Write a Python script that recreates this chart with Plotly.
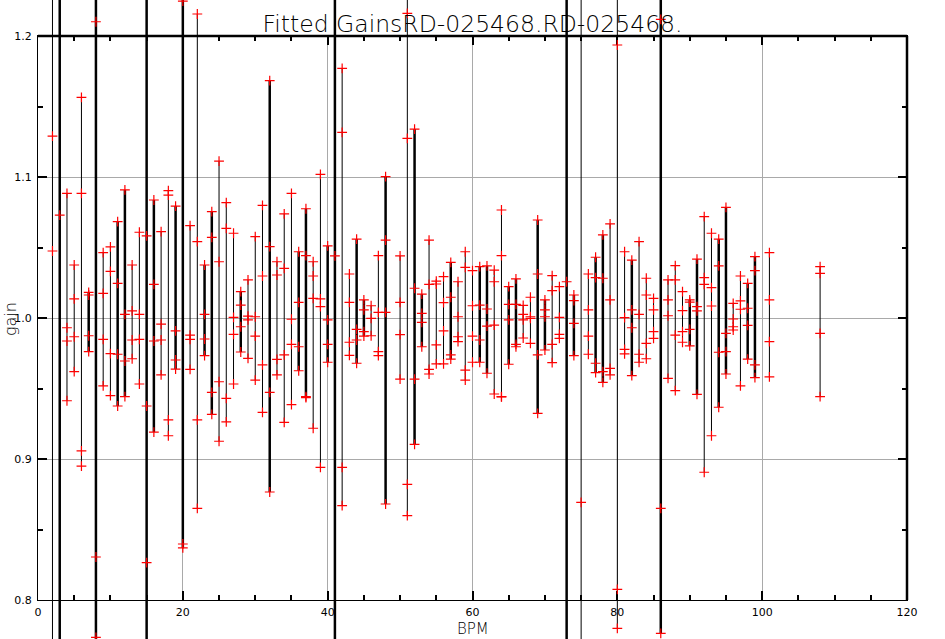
import plotly.graph_objects as go

# ---------------- data ----------------
bar_bpm = [2, 3, 4, 5, 6, 7, 8, 9, 10, 11, 12, 13, 14, 15, 16, 17, 18, 19, 20,
           21, 22, 23, 24, 25, 26, 27, 28, 29, 30, 31, 32, 33, 34, 35, 36, 37, 38, 39, 40,
           41, 42, 43, 44, 45, 46, 47, 48, 50, 51, 52, 53, 54, 55, 56, 57, 58, 59, 60,
           61, 62, 63, 64, 65, 66, 67, 68, 69, 70, 71, 72, 73, 74, 75, 76, 77, 78, 79, 80,
           81, 82, 83, 84, 85, 86, 87, 88, 89, 90, 91, 92, 93, 94, 95, 96, 97, 98, 99,
           101, 108]

bar_lo = [0.70, 0.70, 0.9413, 0.9619, 0.8950, 0.9761, 0.70, 0.9518, 0.9449, 0.9376,
          0.9442, 0.9711, 0.9532, 0.70, 0.9191, 0.9596, 0.9165, 0.9638, 0.8369,
          0.9636, 0.8650, 0.9733, 0.9317, 0.9126, 0.9264, 0.9532, 0.9759, 0.9714, 0.9560,
          0.9331, 0.8766, 0.9596, 0.9260, 0.9385, 0.9626, 0.9435, 0.9218, 0.8941, 0.9686,
          0.70, 0.8669, 0.9735, 0.9679, 0.9872, 0.9874, 0.9733, 0.8681, 0.9567, 0.8598,
          0.9104, 0.9796, 0.9603, 0.9674, 0.9674, 0.9709, 0.9832, 0.9560, 0.9686,
          0.9686, 0.9608, 0.9461, 0.9440, 0.9672, 0.9796, 0.9858, 0.9820, 0.9324, 0.9773,
          0.9683, 0.9856, 0.70, 0.9733, 0.70, 0.9743, 0.9612, 0.9544, 0.9596, 0.7799,
          0.9745, 0.9591, 0.9686, 0.9711, 0.9856, 0.7764, 0.9572, 0.9485, 0.9828, 0.9803,
          0.9459, 0.8906, 0.9165, 0.9367, 0.9603, 0.9915, 0.9518, 0.9709, 0.9577,
          0.9582, 0.9442]

bar_hi = [1.30, 1.30, 1.0884, 1.0376, 1.1565, 1.0182, 1.30, 1.0463, 1.0504, 1.0683,
          1.0908, 1.0376, 1.0608, 1.30, 1.0837, 1.0612, 1.0903, 1.0794, 1.30,
          1.0655, 1.2156, 1.0376, 1.0754, 1.1113, 1.0818, 1.0601, 1.0187, 1.0270, 1.0577,
          1.0799, 1.1683, 1.0399, 1.0738, 1.0884, 1.0470, 1.0775, 1.0399, 1.1019, 1.0511,
          1.30, 1.1771, 1.0312, 1.0560, 1.0128, 1.0087, 1.0442, 1.1002, 1.0440, 1.30,
          1.1340, 1.0170, 1.0553, 1.0262, 1.0293, 1.0395, 1.0257, 1.0470, 1.0336,
          1.0364, 1.0369, 1.0340, 1.0766, 1.0222, 1.0277, 1.0090, 1.0147, 1.0695, 1.0128,
          1.0300, 1.0222, 1.30, 1.0163, 1.30, 1.0312, 1.0431, 1.0589, 1.0667, 1.30,
          1.0470, 1.0411, 1.0541, 1.0282, 1.0139, 1.30, 1.0270, 1.0371, 1.0187, 1.0128,
          1.0418, 1.0719, 1.0601, 1.0560, 1.0785, 1.0104, 1.0298, 1.0246, 1.0435,
          1.0463, 1.0364]

bar_thick = [0, 1, 0, 0, 0, 1, 1, 0, 0, 1, 1, 0, 0, 1, 1, 0, 0, 1, 1,
             0, 0, 1, 1, 0, 0, 0, 1, 0, 0, 0, 1, 0, 0, 0, 1, 1, 0, 0, 1,
             1, 0, 0, 1, 1, 0, 0, 1, 0, 0, 1, 1, 0, 0, 0, 1, 0, 0, 0,
             1, 1, 0, 0, 1, 1, 0, 0, 1, 1, 0, 0, 1, 1, 0, 0, 1, 1, 0, 0,
             0, 1, 0, 0, 0, 1, 0, 0, 0, 1, 1, 0, 0, 1, 1, 0, 0, 1, 1,
             0, 0]

bar_marks = [
    [1.129, 1.0475], [1.073], [1.0884, 0.9931, 0.9837, 0.9413], [1.0376, 1.0135, 0.9867, 0.9619],
    [1.1565, 1.0884, 0.9057, 0.895], [1.0182, 1.0163, 0.9874, 0.9761], [1.2101, 0.8305, 0.7735],
    [1.0463, 1.0175, 0.9849, 0.9518], [1.0504, 1.0331, 0.9747, 0.9449], [1.0683, 1.0246, 0.9743, 0.9376],
    [1.0908, 1.0026, 0.9695, 0.9442], [1.0376, 1.005, 0.9844, 0.9711], [1.0608, 1.0026, 0.9849, 0.9532],
    [1.0582, 0.9376, 0.8265], [1.0837, 1.0239, 0.9837, 0.9191], [1.0612, 0.9957, 0.9844, 0.9596],
    [1.0903, 1.0872, 0.9277, 0.9165], [1.0794, 0.9908, 0.9702, 0.9638], [1.2248, 0.8397, 0.8369],
    [1.0655, 0.9879, 0.9849, 0.9636], [1.2156, 1.0541, 0.9277, 0.865], [1.0376, 1.0026, 0.9851, 0.9733],
    [1.0754, 1.0572, 0.9473, 0.9317], [1.1113, 1.0399, 0.9548, 0.9126], [1.0818, 1.0636, 0.9430, 0.9264],
    [1.0601, 1.0005, 0.9884, 0.9532], [1.0187, 1.0092, 0.9938, 0.9759], [1.0270, 1.0014, 0.9986, 0.9714],
    [1.0577, 1.0009, 0.9872, 0.9560], [1.0799, 1.0298, 0.9667, 0.9331], [1.1683, 1.0506, 0.9473, 0.8766],
    [1.0399, 1.0305, 0.9707, 0.9596], [1.0738, 1.0352, 0.9738, 0.9260], [1.0884, 0.9991, 0.9813, 0.9385],
    [1.0470, 1.0111, 0.9796, 0.9626], [1.0775, 1.0442, 0.9442, 0.9435], [1.0399, 1.0298, 1.0139, 0.9218],
    [1.1019, 1.0135, 1.008, 0.8941], [1.0511, 0.9986, 0.9813, 0.9686],
    [1.0440], [1.1771, 1.1317, 0.8941, 0.8669], [1.0312, 1.0111, 0.9828, 0.9735],
    [1.0560, 0.9920, 0.9844, 0.9679], [1.0128, 1.0057, 0.9903, 0.9872], [1.0087, 0.9998, 0.9874],
    [1.0442, 1.0040, 0.9761, 0.9733], [1.1002, 1.0553, 1.0040, 0.8681], [1.0440, 1.0111, 0.9882, 0.9567],
    [1.2161, 1.1274, 0.8820, 0.8598], [1.1340, 1.0211, 0.9567, 0.9104], [1.0170, 1.0033, 0.9969, 0.9796],
    [1.0553, 1.0239, 0.9636, 0.9603], [1.0262, 1.0241, 0.9809, 0.9674], [1.0293, 1.0109, 0.9908, 0.9674],
    [1.0395, 1.0147, 0.9738, 0.9709], [1.0257, 1.0009, 0.9867, 0.9832], [1.0470, 1.0359, 0.9631, 0.9560],
    [1.0336, 1.0087, 0.9872, 0.9686],
    [1.0364, 1.0092, 0.9844, 0.9686], [1.0369, 1.0064, 0.9943, 0.9608], [1.0340, 1.0257, 0.9950, 0.9461],
    [1.0766, 1.0442, 0.9442, 0.9440], [1.0222, 1.0097, 0.9986, 0.9672], [1.0277, 1.0097, 0.9813, 0.9796],
    [1.0090, 1.0026, 0.9986, 0.9858], [1.0147, 1.0009, 0.9998, 0.9820], [1.0695, 1.0312, 0.9738, 0.9324],
    [1.0128, 1.0057, 1.0009, 0.9773], [1.0300, 1.0194, 0.9813, 0.9683], [1.0222, 1.0005, 0.9884, 0.9856],
    [1.0257], [1.0163, 1.0123, 0.9962, 0.9733], [0.8693], [1.0312, 1.0057, 0.9872, 0.9743],
    [1.0431, 1.0286, 0.9679, 0.9612], [1.0589, 1.0282, 0.9619, 0.9544], [1.0667, 1.0128, 0.9643, 0.9596],
    [1.1936, 0.8076, 0.7799],
    [1.0470, 1.0002, 0.9778, 0.9745], [1.0411, 1.0057, 0.9931, 0.9591], [1.0541, 1.0026, 0.9743, 0.9686],
    [1.0282, 1.0163, 0.9820, 0.9711], [1.0139, 1.0057, 0.9903, 0.9856], [1.2118, 0.8650, 0.7764],
    [1.0270, 1.0128, 1.0016, 0.9572], [1.0371, 1.0270, 0.9879, 0.9485], [1.0187, 1.0052, 0.9903, 0.9828],
    [1.0128, 1.0113, 0.9920, 0.9803], [1.0418, 1.0080, 1.0050, 0.9459], [1.0719, 1.0286, 1.0239, 0.8906],
    [1.0601, 1.0215, 1.0085, 0.9165], [1.0560, 1.0369, 0.9757, 0.9367], [1.0785, 0.9891, 0.9761, 0.9603],
    [1.0104, 0.9993, 0.9938, 0.9915], [1.0298, 1.0121, 1.0062, 0.9518], [1.0246, 1.0069, 0.9948, 0.9709],
    [1.0435, 1.0336, 0.9667, 0.9577],
    [1.0463, 1.0128, 0.9832, 0.9582], [1.0364, 1.0317, 0.9891, 0.9442],
]

title_text = "Fitted GainsRD-025468.RD-025468."
x_title = "BPM"
y_title = "gain"
x_range = [0, 120]
y_range = [0.8, 1.2]

# ---------------- layout geometry ----------------
W, H = 945, 639
L, R, T, B = 38, 38, 36, 39
ppx = (W - L - R) / (x_range[1] - x_range[0])
ppy = (H - T - B) / (y_range[1] - y_range[0])
x2_range = [x_range[0] - L / ppx, x_range[1] + R / ppx]
y2_range = [y_range[0] - B / ppy, y_range[1] + T / ppy]

thin_x, thin_y, thick_x, thick_y = [], [], [], []
for b, lo, hi, tk in zip(bar_bpm, bar_lo, bar_hi, bar_thick):
    xs, ys = (thick_x, thick_y) if tk else (thin_x, thin_y)
    xs += [b, b, None]
    ys += [lo, hi, None]

mx, my = [], []
for b, ms in zip(bar_bpm, bar_marks):
    for m in ms:
        mx.append(b)
        my.append(m)

fig = go.Figure()
fig.add_trace(go.Scatter(x=[None], y=[None], xaxis="x", yaxis="y", showlegend=False,
                         hoverinfo="skip"))
fig.add_trace(go.Scatter(x=thin_x, y=thin_y, mode="lines", xaxis="x2", yaxis="y2",
                         line=dict(color="black", width=1), showlegend=False))
fig.add_trace(go.Scatter(x=thick_x, y=thick_y, mode="lines", xaxis="x2", yaxis="y2",
                         line=dict(color="black", width=2.5), showlegend=False))
fig.add_trace(go.Scatter(x=mx, y=my, mode="markers", xaxis="x2", yaxis="y2",
                         marker=dict(symbol="cross-thin", size=7,
                                     line=dict(color="#ff0000", width=1.2)),
                         showlegend=False))

tickfont = dict(family="DejaVu Sans", size=11, color="black")
axis_common = dict(showgrid=True, gridcolor="#a9a9a9", gridwidth=1, zeroline=False,
                   showline=True, linecolor="black", linewidth=1, mirror="allticks",
                   ticks="inside", ticklen=9, tickwidth=1.5, tickcolor="black",
                   tickfont=tickfont, fixedrange=True, automargin=False)

fig.update_layout(
    template="none",
    width=W, height=H,
    margin=dict(l=0, r=0, t=0, b=0, pad=0, autoexpand=False),
    paper_bgcolor="white", plot_bgcolor="rgba(0,0,0,0)",
    showlegend=False,
    xaxis=dict(domain=[L / W, 1 - R / W], range=x_range, anchor="y", dtick=20,
               minor=dict(dtick=5, ticks="inside", ticklen=5, tickwidth=1.5,
                          tickcolor="black", showgrid=False),
               ticklabelstandoff=2, **axis_common),
    yaxis=dict(domain=[B / H, 1 - T / H], range=y_range, anchor="x", dtick=0.1,
               tickformat=".1f",
               minor=dict(dtick=0.05, ticks="inside", ticklen=5, tickwidth=1.5,
                          tickcolor="black", showgrid=False),
               ticklabelstandoff=3, **axis_common),
    xaxis2=dict(domain=[0, 1], range=x2_range, anchor="y2", visible=False,
                fixedrange=True, automargin=False),
    yaxis2=dict(domain=[0, 1], range=y2_range, anchor="x2", visible=False,
                fixedrange=True, automargin=False),
    title=dict(text=title_text, x=0.5, xanchor="center", y=1 - 23.5 / H, yanchor="middle",
               font=dict(family="DejaVu Sans", size=23.5, color="black", weight=200)),
    annotations=[
        dict(text=x_title, xref="paper", yref="paper", x=473 / W, y=1 - 628.5 / H,
             xanchor="center", yanchor="middle", showarrow=False, borderpad=0,
             font=dict(family="DejaVu Sans", size=15, color="black", weight=200)),
        dict(text=y_title, xref="paper", yref="paper", x=10 / W, y=1 - 319 / H,
             xanchor="center", yanchor="middle", showarrow=False, textangle=-90,
             borderpad=0,
             font=dict(family="DejaVu Sans", size=16, color="black", weight=200)),
    ],
    shapes=[
        dict(type="line", xref="paper", yref="paper", x0=L / W, x1=1 - R / W,
             y0=1 - T / H, y1=1 - T / H, line=dict(color="black", width=2.5)),
        dict(type="line", xref="paper", yref="paper", x0=1 - R / W, x1=1 - R / W,
             y0=B / H, y1=1 - T / H, line=dict(color="black", width=2.5)),
    ],
)

fig.write_html(
    "out.html",
    config={"displayModeBar": False},
    post_script="document.body.style.margin='0';document.body.style.padding='0';",
)
